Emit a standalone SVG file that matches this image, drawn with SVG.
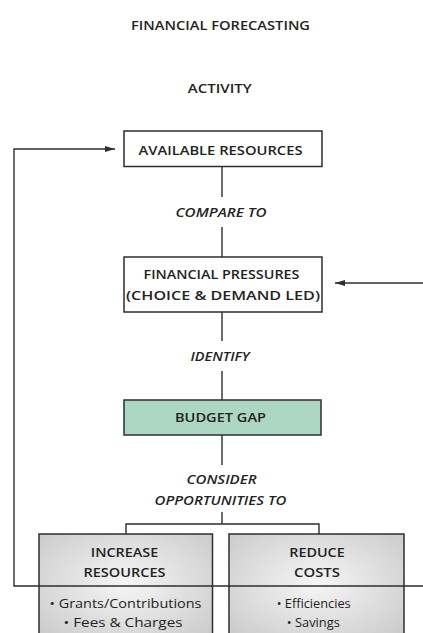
<svg xmlns="http://www.w3.org/2000/svg" width="423" height="633" viewBox="0 0 423 633">
  <style>
    .t { font-family: "Open Sans", "Liberation Sans", sans-serif; font-weight: 600; fill: #232323; text-anchor: middle; }
    .h { font-size: 13px; }
    .i { font-size: 12.5px; font-style: italic; }
    .b { font-size: 13px; font-weight: 500; }
    .box { fill: #ffffff; stroke: #2e2e2e; stroke-width: 1.5; }
    .gap { fill: #acd8c3; stroke: #2e2e2e; stroke-width: 1.5; }
    .opt { fill: url(#greyFill); stroke: #2e2e2e; stroke-width: 1.5; }
    .ln { fill: none; stroke: #2e2e2e; stroke-width: 1.4; }
  </style>
  <defs>
    <radialGradient id="greyFill" cx="0.5" cy="0.45" r="0.7">
      <stop offset="0" stop-color="#f6f6f6"/>
      <stop offset="1" stop-color="#c9c9c9"/>
    </radialGradient>
    <marker id="arrow" viewBox="0 0 10 6" refX="10" refY="3" markerWidth="10" markerHeight="6" markerUnits="userSpaceOnUse" orient="auto">
      <path d="M0,0 L10,3 L0,6 Z" fill="#2e2e2e"/>
    </marker>
  </defs>

  <!-- titles -->
  <text class="t h" x="220.5" y="29.5" textLength="179" lengthAdjust="spacingAndGlyphs">FINANCIAL FORECASTING</text>
  <text class="t h" x="219.7" y="93" textLength="64" lengthAdjust="spacingAndGlyphs">ACTIVITY</text>

  <!-- connectors -->
  <g id="connectors">
    <line class="ln" x1="222" y1="166.5" x2="222" y2="197"/>
    <line class="ln" x1="222" y1="227" x2="222" y2="257"/>
    <line class="ln" x1="222" y1="312" x2="222" y2="341"/>
    <line class="ln" x1="222" y1="371" x2="222" y2="400"/>
    <line class="ln" x1="222" y1="435" x2="222" y2="465"/>
    <polyline class="ln" points="222,512 222,524"/>
    <polyline class="ln" points="126,534 126,524 319,524 319,534"/>
    <!-- feedback loop back to available resources -->
    <polyline class="ln" points="423,586 14,586 14,149 115,149" marker-end="url(#arrow)"/>
    <!-- external pressure into financial pressures -->
    <line class="ln" x1="423" y1="283" x2="335" y2="283" marker-end="url(#arrow)"/>
  </g>

  <!-- connector labels -->
  <text class="t i" x="221" y="217" textLength="91" lengthAdjust="spacingAndGlyphs">COMPARE TO</text>
  <text class="t i" x="220" y="360.5" textLength="59" lengthAdjust="spacingAndGlyphs">IDENTIFY</text>
  <text class="t i" x="221.5" y="483.5" textLength="70" lengthAdjust="spacingAndGlyphs">CONSIDER</text>
  <text class="t i" x="220.5" y="504.5" textLength="132" lengthAdjust="spacingAndGlyphs">OPPORTUNITIES TO</text>

  <g id="available-resources">
    <rect class="box" x="124" y="131" width="198" height="35.5"/>
    <text class="t h" x="220.5" y="154.5" textLength="164" lengthAdjust="spacingAndGlyphs">AVAILABLE RESOURCES</text>
  </g>

  <g id="financial-pressures">
    <rect class="box" x="124" y="257" width="198" height="55"/>
    <text class="t h" x="221.5" y="278.5" textLength="156" lengthAdjust="spacingAndGlyphs">FINANCIAL PRESSURES</text>
    <text class="t h" x="223" y="299.5" textLength="194" lengthAdjust="spacingAndGlyphs">(CHOICE &amp; DEMAND LED)</text>
  </g>

  <g id="budget-gap">
    <rect class="gap" x="124" y="400" width="197" height="35"/>
    <text class="t h" x="220.5" y="421.5" textLength="91" lengthAdjust="spacingAndGlyphs">BUDGET GAP</text>
  </g>

  <g id="increase-resources">
    <rect class="opt" x="39" y="534" width="173.5" height="110"/>
    <line class="ln" x1="39" y1="586" x2="212.5" y2="586"/>
    <text class="t h" x="124.5" y="556.5" textLength="67.5" lengthAdjust="spacingAndGlyphs">INCREASE</text>
    <text class="t h" x="124.5" y="576.5" textLength="82" lengthAdjust="spacingAndGlyphs">RESOURCES</text>
    <text class="t b" x="125.5" y="608" textLength="152" lengthAdjust="spacingAndGlyphs">• Grants/Contributions</text>
    <text class="t b" x="123" y="627" textLength="119" lengthAdjust="spacingAndGlyphs">• Fees &amp; Charges</text>
  </g>

  <g id="reduce-costs">
    <rect class="opt" x="229" y="534" width="175" height="110"/>
    <line class="ln" x1="229" y1="586" x2="404" y2="586"/>
    <text class="t h" x="317" y="556.5" textLength="55.5" lengthAdjust="spacingAndGlyphs">REDUCE</text>
    <text class="t h" x="317" y="576.5" textLength="46" lengthAdjust="spacingAndGlyphs">COSTS</text>
    <text class="t b" x="313.7" y="608" textLength="74" lengthAdjust="spacingAndGlyphs">• Efficiencies</text>
    <text class="t b" x="313.3" y="627" textLength="53" lengthAdjust="spacingAndGlyphs">• Savings</text>
  </g>
</svg>
